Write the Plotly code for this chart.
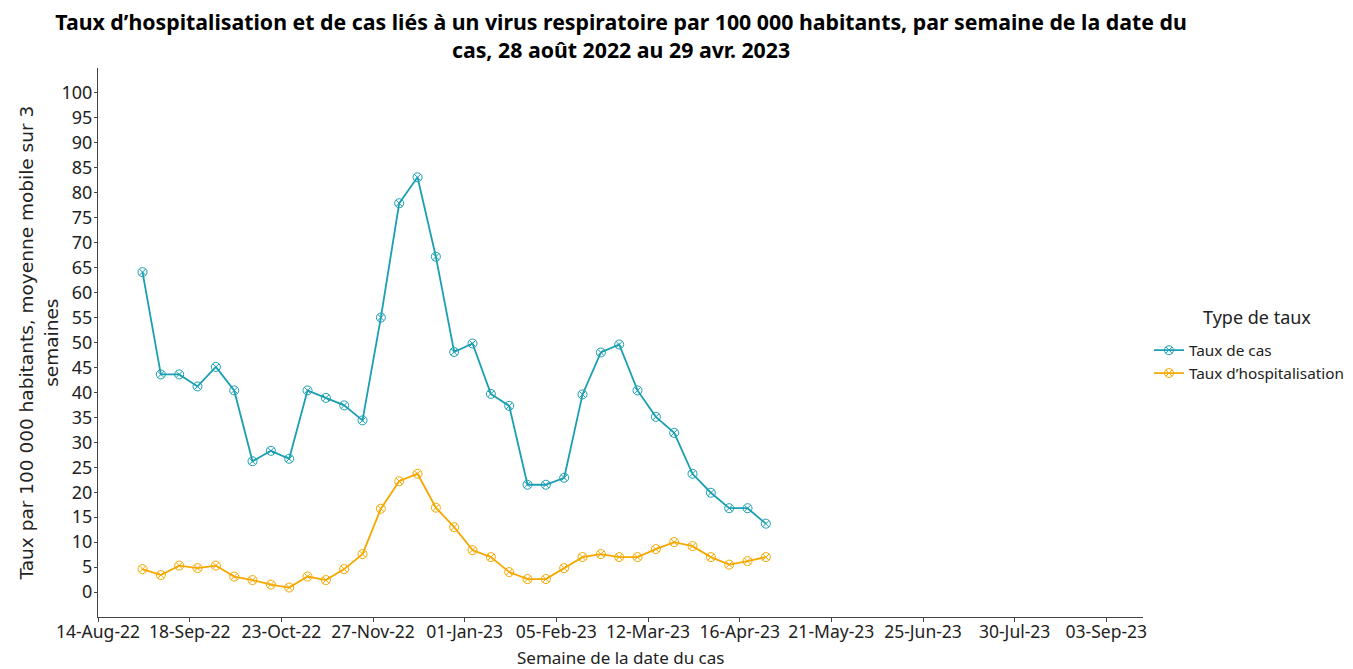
import pandas as pd
import plotly.graph_objects as go

# weekly points (mid-week), 28 Aug 2022 to 29 Apr 2023
weeks = pd.date_range("2022-08-31", periods=35, freq="7D")

taux_cas = [64.1, 43.6, 43.6, 41.2, 45.1, 40.4, 26.2, 28.3, 26.7, 40.4,
            38.9, 37.4, 34.4, 55.0, 77.9, 83.1, 67.2, 48.1, 49.8, 39.7,
            37.3, 21.5, 21.5, 22.9, 39.6, 48.0, 49.6, 40.4, 35.1, 31.9,
            23.7, 19.9, 16.8, 16.8, 13.7]

taux_hosp = [4.6, 3.4, 5.3, 4.8, 5.3, 3.1, 2.4, 1.5, 0.9, 3.1,
             2.4, 4.6, 7.6, 16.7, 22.2, 23.7, 16.9, 13.0, 8.4, 7.0,
             4.0, 2.6, 2.6, 4.8, 7.0, 7.6, 7.0, 7.0, 8.6, 10.0,
             9.2, 7.0, 5.5, 6.2, 7.0]

y_ticks = list(range(0, 101, 5))

series_names = ["Taux de cas", "Taux d\u2019hospitalisation"]
colors = ["#1a9fb2", "#f5a800"]

fig = go.Figure()
for name, vals, col in zip(series_names, [taux_cas, taux_hosp], colors):
    fig.add_trace(go.Scatter(
        x=weeks, y=vals, name=name, mode="lines+markers",
        line=dict(color=col, width=1.8),
        marker=dict(symbol="circle-x-open", size=9, color=col, line=dict(width=1))))

font_main = "'Noto Sans', Lato, sans-serif"

# page body has an 8px margin, so the figure is 8px smaller and margins shifted
fig.update_layout(
    width=1345, height=661,
    paper_bgcolor="white", plot_bgcolor="white",
    margin=dict(l=90, r=210, t=60, b=52, autoexpand=False),
    font=dict(family=font_main, color="#222222", size=16),
    title=dict(
        text="<b>Taux d\u2019hospitalisation et de cas liés à un virus respiratoire par 100 000 habitants, par semaine de la date du<br>cas, 28 août 2022 au 29 avr. 2023</b>",
        x=0.4558, xanchor="center", y=0.967, yanchor="top",
        font=dict(size=21.3, color="black")),
    legend=dict(
        x=1.0057, xanchor="left", y=0.465, yanchor="middle",
        font=dict(size=15.3), tracegroupgap=0, itemwidth=30),
    showlegend=True,
    annotations=[
        dict(text="Type de taux", xref="paper", yref="paper",
             x=1.109, y=0.546, xanchor="center", yanchor="middle",
             showarrow=False, font=dict(size=18, color="#222222")),
        dict(text="Semaine de la date du cas", xref="paper", yref="paper",
             x=0.5, y=-0.074, xanchor="center", yanchor="middle",
             showarrow=False, font=dict(size=17, color="#222222")),
        dict(text="Taux par 100 000 habitants, moyenne mobile sur 3<br>semaines",
             xref="paper", yref="paper", x=-0.0565, y=0.5,
             xanchor="center", yanchor="middle", textangle=-90, showarrow=False,
             font=dict(size=18.5, color="#222222",
                       family="'DejaVu Sans', Verdana, sans-serif")),
    ],
)

fig.update_xaxes(
    range=["2022-08-14", "2023-09-17"],
    tick0="2022-08-14", dtick=35 * 86400000, tickformat="%d-%b-%y",
    showgrid=False, zeroline=False, automargin=False,
    showline=True, linecolor="#444444", linewidth=1,
    ticks="outside", ticklen=4, tickcolor="#444444",
    tickfont=dict(size=17.5), ticklabelstandoff=-5)

fig.update_yaxes(
    range=[-5, 105], tickvals=y_ticks,
    showgrid=False, zeroline=False, automargin=False,
    showline=True, linecolor="#444444", linewidth=1,
    ticks="outside", ticklen=3, tickcolor="#444444",
    tickfont=dict(size=18), ticklabelstandoff=-2)

fig.write_html("out.html")
